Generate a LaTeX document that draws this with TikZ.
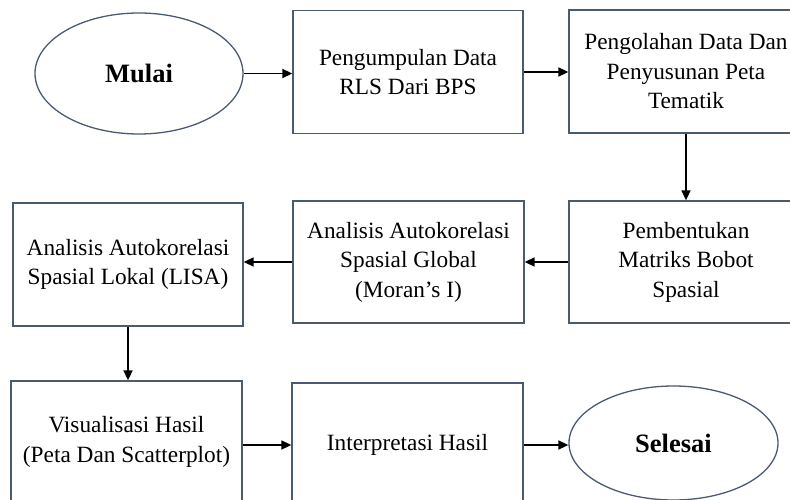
\documentclass[tikz,border=0pt]{standalone}
\usepackage{fontspec}
\setmainfont{Liberation Serif}
\usetikzlibrary{arrows.meta,shapes.geometric}
\definecolor{garisbox}{HTML}{4A5A70}
\tikzset{
  kotak/.style={draw=garisbox, line width=1.3pt, align=center, inner sep=0pt,
    font=\fontsize{23.3}{29.5}\selectfont},
  oval/.style={draw=garisbox, ellipse, line width=1.3pt, inner sep=0pt,
    font=\fontsize{26.5}{30}\selectfont\bfseries},
  panah/.style={-{Triangle[length=10pt,width=9pt]}, line width=1.6pt, black}
}
\begin{document}
\begin{tikzpicture}[x=1pt,y=-1pt]
\useasboundingbox (0,0) rectangle (790,500);
\clip (0,0) rectangle (790,500);
% baris atas
\node[oval, minimum width=208pt, minimum height=121pt] (mulai) at (139,73.5) {Mulai};
\node[kotak, minimum width=230pt, minimum height=123pt] (pengumpulan) at (408,72) {Pengumpulan Data\\RLS Dari BPS};
\node[kotak, minimum width=234pt, minimum height=123pt] (pengolahan) at (686,71.5) {Pengolahan Data Dan\\Penyusunan Peta\\Tematik};
% baris tengah
\node[kotak, minimum width=234pt, minimum height=122pt] (pembentukan) at (686,262) {Pembentukan\\Matriks Bobot\\Spasial};
\node[kotak, minimum width=231pt, minimum height=122pt] (global) at (408.5,262) {Analisis Autokorelasi\\Spasial Global\\(Moran’s I)};
\node[kotak, minimum width=230pt, minimum height=123pt] (lisa) at (128,264.5) {Analisis Autokorelasi\\Spasial Lokal (LISA)};
% baris bawah
\node[kotak, minimum width=231pt, minimum height=122pt] (visual) at (126.5,442) {Visualisasi Hasil\\(Peta Dan Scatterplot)};
\node[kotak, minimum width=231pt, minimum height=124pt] (interpretasi) at (407.5,445) {Interpretasi Hasil};
\node[oval, minimum width=209pt, minimum height=114pt] (selesai) at (673.5,443) {Selesai};
% panah
\draw[panah] (mulai.east) -- (mulai.east -| pengumpulan.west);
\draw[panah] (pengumpulan.east) -- (pengumpulan.east -| pengolahan.west);
\draw[panah] (pengolahan.south) -- (pembentukan.north);
\draw[panah] (pembentukan.west) -- (pembentukan.west -| global.east);
\draw[panah] (global.west) -- (global.west -| lisa.east);
\draw[panah] (lisa.south) -- (lisa.south |- visual.north);
\draw[panah] (interpretasi.west -| visual.east) -- (interpretasi.west);
\draw[panah] (interpretasi.east) -- (interpretasi.east -| selesai.west);
\end{tikzpicture}
\end{document}
